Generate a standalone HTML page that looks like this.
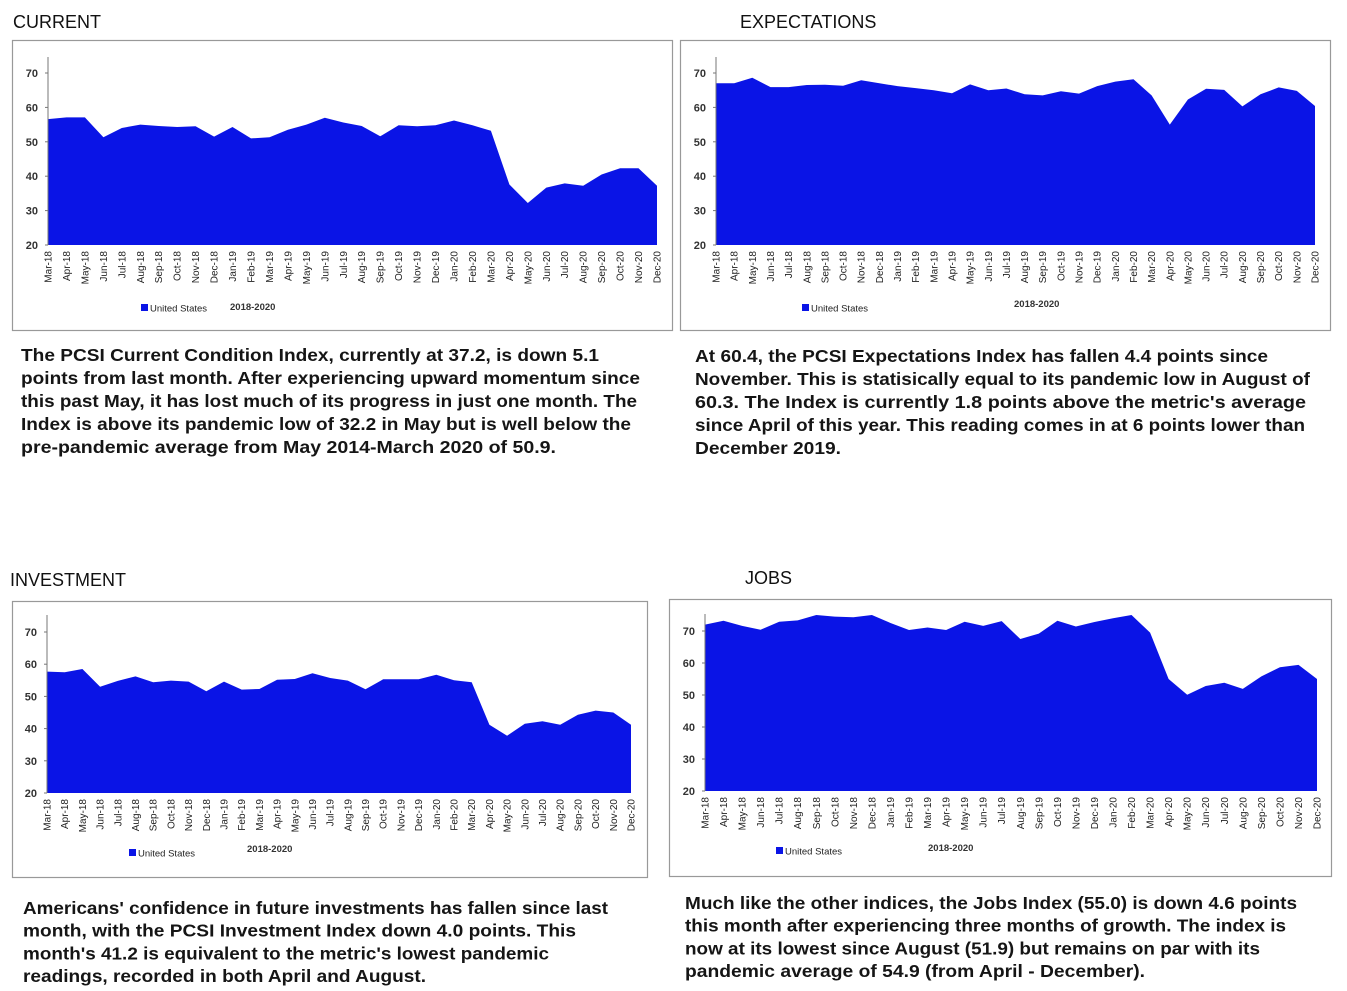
<!DOCTYPE html>
<html><head><meta charset="utf-8"><style>
html,body{margin:0;padding:0;background:#fff;width:1347px;height:991px;overflow:hidden}
svg{display:block;font-family:"Liberation Sans",sans-serif}
</style></head><body>
<svg id="root" width="1347" height="991" viewBox="0 0 1347 991" xmlns="http://www.w3.org/2000/svg">
<text x="13" y="28" font-size="18" fill="#111">CURRENT</text>
<text x="740" y="28" font-size="18" fill="#111">EXPECTATIONS</text>
<text x="10" y="586" font-size="18" fill="#111">INVESTMENT</text>
<text x="745" y="584" font-size="18" fill="#111">JOBS</text>
<g id="charts"></g>
<g id="texts" font-size="17.5" font-weight="bold" fill="#151515"></g>
</svg>
<script>
const months = ["Mar-18","Apr-18","May-18","Jun-18","Jul-18","Aug-18","Sep-18","Oct-18","Nov-18","Dec-18","Jan-19","Feb-19","Mar-19","Apr-19","May-19","Jun-19","Jul-19","Aug-19","Sep-19","Oct-19","Nov-19","Dec-19","Jan-20","Feb-20","Mar-20","Apr-20","May-20","Jun-20","Jul-20","Aug-20","Sep-20","Oct-20","Nov-20","Dec-20"];
const yTicks = [20,30,40,50,60,70];
const currentValues = [56.6,57.1,57.1,51.3,54,55,54.6,54.3,54.5,51.5,54.3,51,51.3,53.5,55,57,55.6,54.6,51.6,54.8,54.5,54.8,56.2,54.8,53.2,37.6,32.2,36.7,37.9,37.2,40.5,42.3,42.3,37.2];
const expectationsValues = [67,67,68.6,65.9,65.9,66.5,66.6,66.3,67.9,67,66.2,65.6,65,64.1,66.7,65,65.5,63.8,63.5,64.7,64,66.2,67.5,68.2,63.5,55,62.3,65.4,65.1,60.3,63.8,65.8,64.8,60.4];
const investmentValues = [57.7,57.5,58.5,53,54.8,56.2,54.4,54.9,54.6,51.6,54.6,52.1,52.3,55.2,55.4,57.2,55.7,54.9,52.2,55.3,55.3,55.3,56.7,55,54.4,41.2,37.8,41.5,42.3,41.2,44.3,45.6,45,41.2];
const jobsValues = [72,73.2,71.6,70.4,72.9,73.3,75,74.5,74.3,75,72.5,70.3,71.1,70.3,72.9,71.6,73.1,67.5,69.2,73.2,71.4,72.8,74,75,69.5,55,50.1,52.8,53.8,51.9,55.8,58.7,59.4,55];

const NS="http://www.w3.org/2000/svg";
function mk(tag,attrs,parent,text){const e=document.createElementNS(NS,tag);for(const k in attrs)e.setAttribute(k,attrs[k]);if(text!=null)e.textContent=text;parent.appendChild(e);return e;}

const charts=[
 {key:"current",vals:currentValues,box:[12,40,660,290],x0:48,x1:657,yb:245,yt:73,axTop:57,leg:[141,311],yr:[230,310]},
 {key:"expectations",vals:expectationsValues,box:[680,40,650,290],x0:716,x1:1315,yb:245,yt:73,axTop:57,leg:[802,311],yr:[1014,307]},
 {key:"investment",vals:investmentValues,box:[12,601,635,276],x0:47,x1:631,yb:793,yt:632,axTop:615,leg:[129,856],yr:[247,852]},
 {key:"jobs",vals:jobsValues,box:[669,599,662,277],x0:705,x1:1317,yb:791,yt:631,axTop:614,leg:[776,854],yr:[928,851]}
];
const root=document.getElementById("charts");
charts.forEach(c=>{
 const g=mk("g",{},root);
 
 
 const fr=mk("rect",{x:c.box[0]+.5,y:c.box[1]+.5,width:c.box[2],height:c.box[3],fill:"#fff",stroke:"#999","stroke-width":1.2},g);
 
 
 const n=c.vals.length;
 const xs=i=>c.x0+(c.x1-c.x0)*i/(n-1);
 const ys=v=>c.yb-(v-20)*(c.yb-c.yt)/50;
 let d="M"+xs(0)+","+ys(20);
 c.vals.forEach((v,i)=>{d+=" L"+xs(i).toFixed(1)+","+ys(v).toFixed(1);});
 d+=" L"+xs(n-1)+","+ys(20)+" Z";
 const area=mk("path",{d:d,fill:"#0a14e6"},g);
 
 
 const ax=mk("line",{x1:c.x0,y1:c.axTop,x2:c.x0,y2:c.yb,stroke:"#777","stroke-width":1},g);
 
 
 yTicks.forEach(t=>{
  const tl=mk("text",{x:c.x0-10,y:ys(t)+4,"font-size":11,"font-weight":"bold",fill:"#333","text-anchor":"end"},g,String(t));
  
  
  mk("line",{x1:c.x0-3,y1:ys(t),x2:c.x0,y2:ys(t),stroke:"#777"},g);
 });
 months.forEach((m,i)=>{
  const x=xs(i)+3.5,y=c.yb+6;
  const tl=mk("text",{x:x,y:y,"font-size":10,fill:"#222","text-anchor":"end",transform:`rotate(-90 ${x} ${y})`},g,m);
  
  
 });
 const ls=mk("rect",{x:c.leg[0],y:c.leg[1]-7,width:7,height:7,fill:"#0a14e6"},g);
 
 
 const lt=mk("text",{x:c.leg[0]+9,y:c.leg[1]+0.5,"font-size":9.5,fill:"#222"},g,"United States");
 
 
 const yr=mk("text",{x:c.yr[0],y:c.yr[1],"font-size":9.5,"font-weight":"bold",fill:"#333"},g,"2018-2020");
 
 
});

const paras=[
 {name:"current-description",x:21,y0:361,lh:23,lines:[
  ["The PCSI Current Condition Index, currently at 37.2,  is down 5.1",599],
  ["points from last month. After experiencing upward momentum since",640],
  ["this past May, it has lost much of its progress in just one month. The",637],
  ["Index is above its pandemic low of 32.2 in May but is well below the",631],
  ["pre-pandemic average from May 2014-March 2020 of 50.9.",556]]},
 {name:"expectations-description",x:695,y0:362,lh:23,lines:[
  ["At 60.4, the PCSI Expectations Index has fallen 4.4 points since",1268],
  ["November. This is statisically equal to its pandemic low in August of",1310],
  ["60.3. The Index is currently 1.8 points above the metric's average",1306],
  ["since April of this year. This reading comes in at 6 points lower than",1305],
  ["December 2019.",841]]},
 {name:"investment-description",x:23,y0:914,lh:22.7,lines:[
  ["Americans' confidence in future investments has fallen since last",608],
  ["month, with the PCSI Investment Index down 4.0 points. This",576],
  ["month's 41.2 is equivalent to the metric's lowest pandemic",549],
  ["readings, recorded in both April and August.",426]]},
 {name:"jobs-description",x:685,y0:909,lh:22.7,lines:[
  ["Much like the other indices, the Jobs Index (55.0) is down 4.6 points",1297],
  ["this month after experiencing three months of growth. The index is",1286],
  ["now at its lowest since August (51.9) but remains on par with its",1260],
  ["pandemic average of 54.9 (from April - December).",1145]]}
];
const tg=document.getElementById("texts");
paras.forEach(p=>{
 const t=mk("text",{},tg);
 
 
 p.lines.forEach((l,i)=>{
  mk("tspan",{x:p.x,y:p.y0+i*p.lh,textLength:l[1]-p.x,lengthAdjust:"spacingAndGlyphs"},t,l[0]);
 });
});
</script>
</body></html>
